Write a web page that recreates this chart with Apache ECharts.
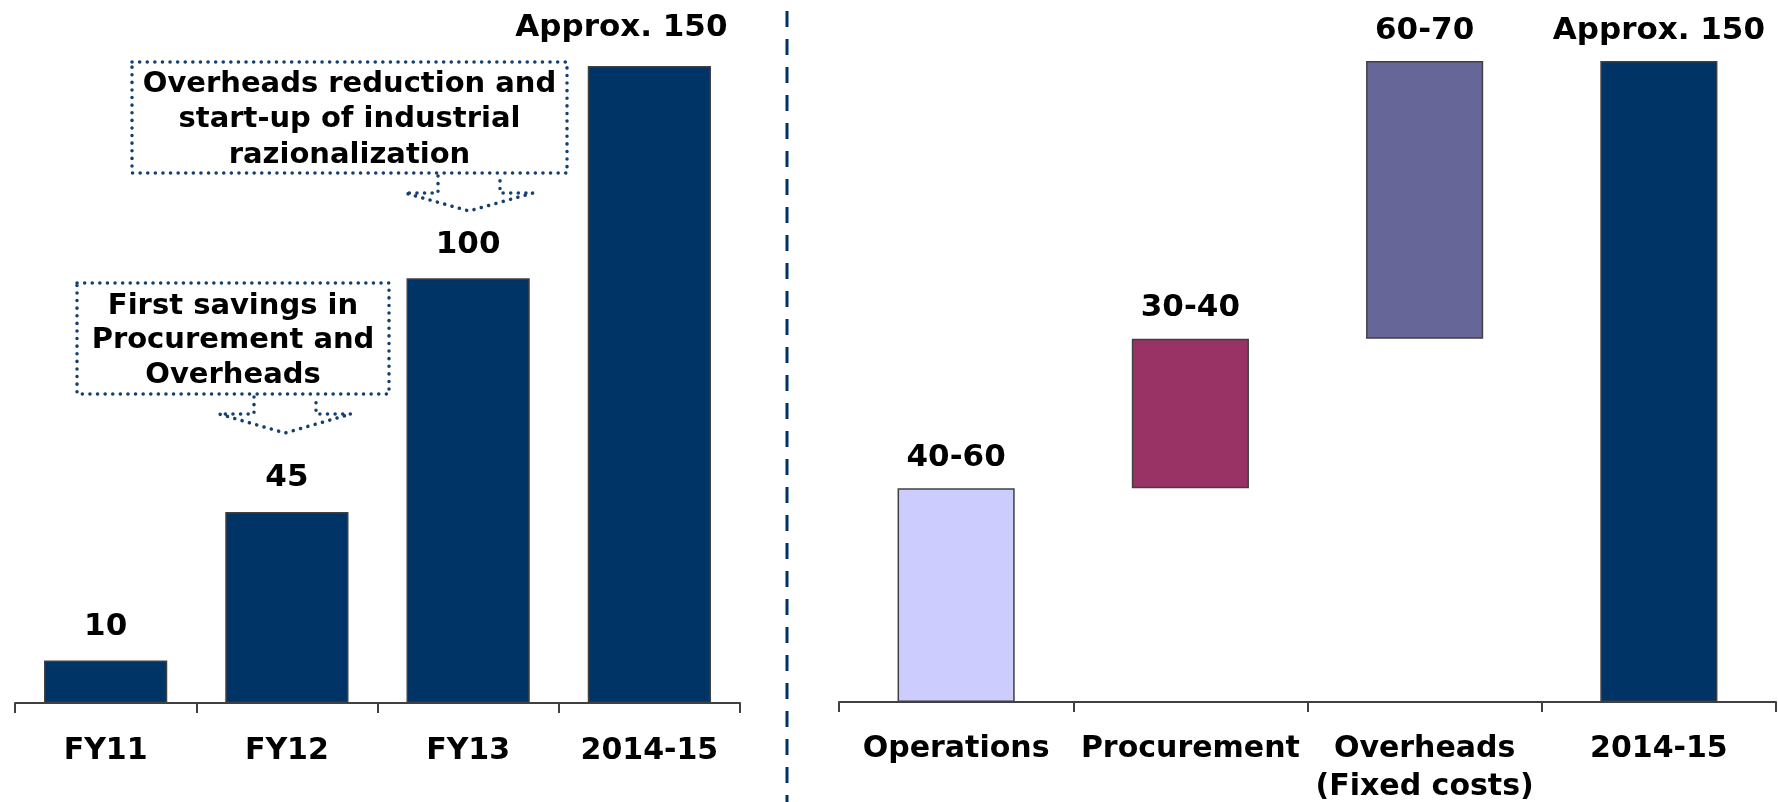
<!DOCTYPE html>
<html>
<head>
<meta charset="utf-8">
<style>
  html, body { margin: 0; padding: 0; background: #ffffff; }
  #chart { width: 1778px; height: 802px; }
</style>
<script src="https://cdn.jsdelivr.net/npm/echarts@6/dist/echarts.min.js"></script>
</head>
<body>
<div id="chart"></div>
<script>
// Savings history (left panel)
const historyCategories = ['FY11', 'FY12', 'FY13', '2014-15'];
const historyValues = [10, 45, 100, 150];
const historyLabels = ['10', '45', '100', 'Approx. 150'];

// Savings breakdown by area (right panel, waterfall)
const breakdownCategories = ['Operations', 'Procurement', 'Overheads\n(Fixed costs)', '2014-15'];
const breakdownValues = [50, 35, 65, 150];
const breakdownLabels = ['40-60', '30-40', '60-70', 'Approx. 150'];
const breakdownColors = ['#CCCCFF', '#993366', '#666699', '#003366'];
const breakdownIsTotal = [false, false, false, true];

// Callout texts
const calloutTop = ['Overheads reduction and', 'start-up of industrial', 'razionalization'];
const calloutBottom = ['First savings in', 'Procurement and', 'Overheads'];

// Invisible offsets for the waterfall steps
const breakdownBase = [];
let running = 0;
breakdownValues.forEach((v, i) => {
  if (breakdownIsTotal[i]) { breakdownBase.push(0); }
  else { breakdownBase.push(running); running += v; }
});

const FONT = 'DejaVu Sans, Verdana, sans-serif';
const NAVY = '#003366';
const AXIS = '#404040';
const DOT = '#15406e';

function labelStyle(distance) {
  return {
    show: true, position: 'top', distance: distance,
    fontFamily: FONT, fontWeight: 'bold', fontSize: 31, color: '#000'
  };
}

function categoryAxis(gridIndex, data, margin) {
  return {
    type: 'category', gridIndex: gridIndex, data: data,
    axisLine: { lineStyle: { color: AXIS, width: 2 } },
    axisTick: { show: true, length: 10, lineStyle: { color: AXIS, width: 2 } },
    axisLabel: { fontFamily: FONT, fontWeight: 'bold', fontSize: 30, color: '#000',
                 margin: margin, lineHeight: 38, interval: 0 }
  };
}

const yCommon = { type: 'value', min: 0, max: 150, show: false, splitLine: { show: false } };

const dotted = { stroke: DOT, lineWidth: 3.5, lineDash: [0.1, 7.5], lineCap: 'round', fill: null };

function calloutBox(x, y, w, h, lines, lh) {
  return [
    { type: 'rect', shape: { x: x, y: y, width: w, height: h }, style: Object.assign({}, dotted), z: 10 },
    { type: 'text', x: x + w / 2, y: y + h / 2 + 2, z: 11,
      style: { text: lines.join('\n'), fill: '#000', font: 'bold 29px ' + FONT,
               align: 'center', verticalAlign: 'middle', lineHeight: lh } }
  ];
}

function dottedArrow(cx, top, stemHalf, shoulderY, wingHalf, tipY) {
  return { type: 'polyline', z: 10,
    shape: { points: [
      [cx - stemHalf, top], [cx - stemHalf, shoulderY], [cx - wingHalf, shoulderY],
      [cx, tipY],
      [cx + wingHalf, shoulderY], [cx + stemHalf, shoulderY], [cx + stemHalf, top]
    ] },
    style: Object.assign({}, dotted) };
}

const chart = echarts.init(document.getElementById('chart'));
chart.setOption({
  animation: false,
  backgroundColor: '#ffffff',
  grid: [
    { left: 15, right: 1038, top: 66, bottom: 99, outerBoundsMode: 'none' },
    { left: 839, right: 2, top: 61, bottom: 100, outerBoundsMode: 'none' }
  ],
  xAxis: [
    categoryAxis(0, historyCategories, 29),
    categoryAxis(1, breakdownCategories, 28)
  ],
  yAxis: [
    Object.assign({ gridIndex: 0 }, yCommon),
    Object.assign({ gridIndex: 1 }, yCommon)
  ],
  series: [
    {
      type: 'bar', xAxisIndex: 0, yAxisIndex: 0, barWidth: '68%',
      // the last label is nudged left so it stays clear of the panel divider
      data: historyValues.map((v, i) => i === historyValues.length - 1
        ? { value: v, label: { offset: [-28, -5] } }
        : v),
      itemStyle: { color: NAVY, borderColor: AXIS, borderWidth: 1.5 },
      label: Object.assign({ formatter: p => historyLabels[p.dataIndex] }, labelStyle(18))
    },
    {
      type: 'bar', xAxisIndex: 1, yAxisIndex: 1, stack: 'wf', barWidth: '50%',
      data: breakdownBase, silent: true,
      itemStyle: { color: 'transparent', borderColor: 'transparent' }
    },
    {
      type: 'bar', xAxisIndex: 1, yAxisIndex: 1, stack: 'wf', barWidth: '50%',
      data: breakdownValues.map((v, i) => ({
        value: v, itemStyle: { color: breakdownColors[i] }
      })),
      itemStyle: { borderColor: AXIS, borderWidth: 1.5 },
      label: Object.assign({ formatter: p => breakdownLabels[p.dataIndex] }, labelStyle(15))
    }
  ],
  graphic: [
    // panel divider
    { type: 'line', shape: { x1: 787, y1: 11, x2: 787, y2: 802 },
      style: { stroke: NAVY, lineWidth: 3, lineDash: [16, 12] } },
    ...calloutBox(132, 62, 435, 111, calloutTop, 35.5),
    dottedArrow(469, 176, 31, 193, 64, 211),
    ...calloutBox(77, 283, 312, 111, calloutBottom, 34.5),
    dottedArrow(285, 397, 31, 414, 66, 433)
  ]
});
</script>
</body>
</html>
